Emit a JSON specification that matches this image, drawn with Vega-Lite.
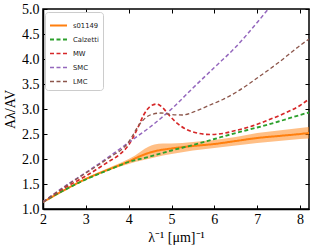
{
  "$schema": "https://vega.github.io/schema/vega-lite/v6.json",
  "width": 266,
  "height": 200,
  "autosize": {"type": "none"},
  "padding": {"left": 43, "top": 9, "right": 6, "bottom": 41},
  "background": "white",
  "config": {
    "view": {"stroke": "black", "strokeWidth": 1.5},
    "axis": {
      "grid": false,
      "labelFont": "Liberation Serif",
      "labelFontSize": 14,
      "labelColor": "black",
      "titleFont": "Liberation Serif",
      "titleFontSize": 14,
      "titleFontWeight": "normal",
      "titleColor": "black",
      "tickColor": "black",
      "tickSize": -4,
      "tickWidth": 1,
      "domainColor": "black",
      "domainWidth": 1.5
    },
    "legend": {
      "orient": "none",
      "legendX": 2,
      "legendY": 3,
      "title": null,
      "symbolType": "stroke",
      "symbolSize": 289,
      "labelFont": "DejaVu Sans",
      "labelFontSize": 6.8,
      "labelColor": "#222222",
      "labelOffset": 5,
      "rowPadding": -6,
      "strokeColor": "#cccccc",
      "fillColor": "white",
      "padding": 4,
      "cornerRadius": 3
    }
  },
  "datasets": {
    "curves": [
      {"series": "s01149", "x": 2, "y": 1.14},
      {"series": "s01149", "x": 2.5, "y": 1.38},
      {"series": "s01149", "x": 3, "y": 1.6},
      {"series": "s01149", "x": 3.5, "y": 1.78},
      {"series": "s01149", "x": 4, "y": 1.95},
      {"series": "s01149", "x": 4.25, "y": 2.05},
      {"series": "s01149", "x": 4.5, "y": 2.13},
      {"series": "s01149", "x": 4.75, "y": 2.18},
      {"series": "s01149", "x": 5, "y": 2.21},
      {"series": "s01149", "x": 5.5, "y": 2.26},
      {"series": "s01149", "x": 6, "y": 2.3},
      {"series": "s01149", "x": 6.5, "y": 2.36},
      {"series": "s01149", "x": 7, "y": 2.42},
      {"series": "s01149", "x": 7.5, "y": 2.46},
      {"series": "s01149", "x": 8, "y": 2.5},
      {"series": "s01149", "x": 8.21, "y": 2.52},
      {"series": "Calzetti", "x": 2, "y": 1.14},
      {"series": "Calzetti", "x": 2.5, "y": 1.38},
      {"series": "Calzetti", "x": 3, "y": 1.59},
      {"series": "Calzetti", "x": 3.5, "y": 1.77},
      {"series": "Calzetti", "x": 4, "y": 1.94},
      {"series": "Calzetti", "x": 4.5, "y": 2.05},
      {"series": "Calzetti", "x": 5, "y": 2.17},
      {"series": "Calzetti", "x": 5.5, "y": 2.28},
      {"series": "Calzetti", "x": 6, "y": 2.4},
      {"series": "Calzetti", "x": 6.5, "y": 2.52},
      {"series": "Calzetti", "x": 7, "y": 2.63},
      {"series": "Calzetti", "x": 7.5, "y": 2.75},
      {"series": "Calzetti", "x": 8, "y": 2.88},
      {"series": "Calzetti", "x": 8.21, "y": 2.93},
      {"series": "MW", "x": 2, "y": 1.14},
      {"series": "MW", "x": 2.5, "y": 1.42},
      {"series": "MW", "x": 3, "y": 1.66},
      {"series": "MW", "x": 3.5, "y": 1.93},
      {"series": "MW", "x": 3.8, "y": 2.1},
      {"series": "MW", "x": 4, "y": 2.28},
      {"series": "MW", "x": 4.2, "y": 2.6},
      {"series": "MW", "x": 4.35, "y": 2.88},
      {"series": "MW", "x": 4.5, "y": 3.05},
      {"series": "MW", "x": 4.65, "y": 3.1},
      {"series": "MW", "x": 4.8, "y": 3.02},
      {"series": "MW", "x": 4.95, "y": 2.87},
      {"series": "MW", "x": 5.1, "y": 2.74},
      {"series": "MW", "x": 5.35, "y": 2.59},
      {"series": "MW", "x": 5.6, "y": 2.52},
      {"series": "MW", "x": 5.9, "y": 2.49},
      {"series": "MW", "x": 6.2, "y": 2.51},
      {"series": "MW", "x": 6.5, "y": 2.57},
      {"series": "MW", "x": 6.85, "y": 2.65},
      {"series": "MW", "x": 7.2, "y": 2.76},
      {"series": "MW", "x": 7.6, "y": 2.9},
      {"series": "MW", "x": 8, "y": 3.07},
      {"series": "MW", "x": 8.21, "y": 3.2},
      {"series": "SMC", "x": 2, "y": 1.14},
      {"series": "SMC", "x": 2.5, "y": 1.45},
      {"series": "SMC", "x": 3, "y": 1.73},
      {"series": "SMC", "x": 3.5, "y": 2.02},
      {"series": "SMC", "x": 4, "y": 2.33},
      {"series": "SMC", "x": 4.5, "y": 2.64},
      {"series": "SMC", "x": 5, "y": 3.0},
      {"series": "SMC", "x": 5.5, "y": 3.42},
      {"series": "SMC", "x": 6, "y": 3.83},
      {"series": "SMC", "x": 6.5, "y": 4.24},
      {"series": "SMC", "x": 7, "y": 4.73},
      {"series": "SMC", "x": 7.26, "y": 5.0},
      {"series": "SMC", "x": 7.5, "y": 5.25},
      {"series": "LMC", "x": 2, "y": 1.14},
      {"series": "LMC", "x": 2.5, "y": 1.44},
      {"series": "LMC", "x": 3, "y": 1.72},
      {"series": "LMC", "x": 3.5, "y": 2.0},
      {"series": "LMC", "x": 4, "y": 2.34},
      {"series": "LMC", "x": 4.25, "y": 2.69},
      {"series": "LMC", "x": 4.5, "y": 2.88},
      {"series": "LMC", "x": 4.75, "y": 2.92},
      {"series": "LMC", "x": 5, "y": 2.89},
      {"series": "LMC", "x": 5.25, "y": 2.88},
      {"series": "LMC", "x": 5.6, "y": 2.97},
      {"series": "LMC", "x": 5.9, "y": 3.08},
      {"series": "LMC", "x": 6.2, "y": 3.19},
      {"series": "LMC", "x": 6.5, "y": 3.33},
      {"series": "LMC", "x": 7, "y": 3.62},
      {"series": "LMC", "x": 7.5, "y": 3.93},
      {"series": "LMC", "x": 8, "y": 4.27},
      {"series": "LMC", "x": 8.21, "y": 4.4}
    ],
    "band": [
      {"x": 2, "lo": 1.13, "hi": 1.15},
      {"x": 2.5, "lo": 1.37, "hi": 1.39},
      {"x": 3, "lo": 1.59, "hi": 1.62},
      {"x": 3.5, "lo": 1.76, "hi": 1.81},
      {"x": 3.8, "lo": 1.85, "hi": 1.92},
      {"x": 4, "lo": 1.9, "hi": 2.0},
      {"x": 4.15, "lo": 1.94, "hi": 2.07},
      {"x": 4.3, "lo": 1.97, "hi": 2.16},
      {"x": 4.45, "lo": 2.0, "hi": 2.24},
      {"x": 4.6, "lo": 2.03, "hi": 2.29},
      {"x": 4.8, "lo": 2.07, "hi": 2.31},
      {"x": 5, "lo": 2.1, "hi": 2.31},
      {"x": 5.5, "lo": 2.17, "hi": 2.34},
      {"x": 6, "lo": 2.22, "hi": 2.38},
      {"x": 6.5, "lo": 2.27, "hi": 2.44},
      {"x": 7, "lo": 2.32, "hi": 2.52},
      {"x": 7.5, "lo": 2.36, "hi": 2.57},
      {"x": 8, "lo": 2.4, "hi": 2.62},
      {"x": 8.21, "lo": 2.41, "hi": 2.64}
    ]
  },
  "layer": [
    {
      "data": {"name": "band"},
      "mark": {"type": "area", "color": "#ff7f0e", "opacity": 0.5, "interpolate": "monotone", "clip": true},
      "encoding": {
        "x": {"field": "x", "type": "quantitative", "scale": {"domain": [2, 8.21], "nice": false}, "axis": null},
        "y": {"field": "lo", "type": "quantitative", "scale": {"domain": [1, 5], "nice": false}, "axis": null},
        "y2": {"field": "hi"}
      }
    },
    {
      "data": {"name": "curves"},
      "mark": {"type": "line", "interpolate": "monotone", "clip": true},
      "encoding": {
        "x": {"field": "x", "type": "quantitative", "scale": {"domain": [2, 8.21], "nice": false},
              "axis": {"orient": "bottom", "values": [2, 3, 4, 5, 6, 7, 8], "format": "d", "labelPadding": 7, "title": "λ⁻¹ [μm]⁻¹", "titlePadding": 4, "labelFlush": false}},
        "y": {"field": "y", "type": "quantitative", "scale": {"domain": [1, 5], "nice": false},
              "axis": {"orient": "left", "values": [1, 1.5, 2, 2.5, 3, 3.5, 4, 4.5, 5], "format": ".1f", "labelPadding": 8, "title": "Aλ/AV", "titlePadding": 4, "labelFlush": false}},
        "color": {"field": "series", "type": "nominal",
                  "scale": {"domain": ["s01149", "Calzetti", "MW", "SMC", "LMC"], "range": ["#ff7f0e", "#2ca02c", "#d62728", "#9467bd", "#8c564b"]}},
        "strokeDash": {"field": "series", "type": "nominal",
                       "scale": {"domain": ["s01149", "Calzetti", "MW", "SMC", "LMC"], "range": [[1, 0], [4, 2.5], [4, 2.5], [4, 2.5], [4, 2.5]]}},
        "strokeWidth": {"field": "series", "type": "nominal",
                        "scale": {"domain": ["s01149", "Calzetti", "MW", "SMC", "LMC"], "range": [2, 1.3, 1.3, 1.3, 1.3]}}
      }
    },
    {
      "data": {"name": "band"},
      "mark": {"type": "point", "opacity": 0},
      "encoding": {
        "x": {"field": "x", "type": "quantitative", "scale": {"domain": [2, 8.21], "nice": false},
              "axis": {"orient": "top", "values": [2, 3, 4, 5, 6, 7, 8], "labels": false, "title": null, "domain": false}},
        "y": {"field": "lo", "type": "quantitative", "scale": {"domain": [1, 5], "nice": false},
              "axis": {"orient": "right", "values": [1, 1.5, 2, 2.5, 3, 3.5, 4, 4.5, 5], "labels": false, "title": null, "domain": false}}
      }
    }
  ],
  "resolve": {"axis": {"x": "independent", "y": "independent"}}
}
